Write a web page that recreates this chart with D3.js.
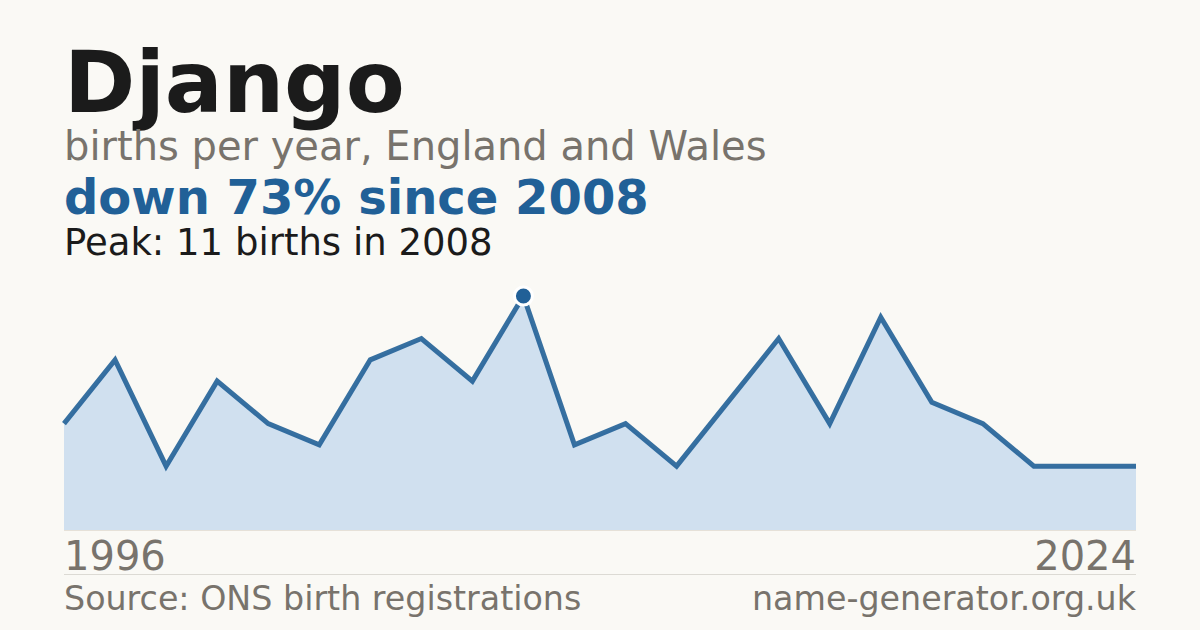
<!DOCTYPE html>
<html>
<head>
<meta charset="utf-8">
<script src="https://cdn.jsdelivr.net/npm/d3@7"></script>
<style>
  html, body { margin: 0; padding: 0; background: #faf9f5; }
  svg { display: block; font-family: "DejaVu Sans", sans-serif; }
</style>
</head>
<body>
<svg id="chart" width="1200" height="630"></svg>
<script>
// years that have a published count (gaps are years under the disclosure threshold)
const years = [1996, 1997, 1999, 2000, 2002, 2003, 2004, 2005, 2007, 2008,
  2009, 2010, 2012, 2013, 2014, 2016, 2017, 2018, 2019, 2022, 2023, 2024];
const births = [5, 8, 3, 7, 5, 4, 8, 9, 7, 11,
  4, 5, 3, 6, 9, 5, 10, 6, 5, 3, 3, 3];
const axisLabels = ['1996', '2024'];

const svg = d3.select('#chart');
const W = 1200;
const margin = { left: 64, right: 64 };
const plot = { top: 296, bottom: 530 };

const palette = {
  bg: '#faf9f5',
  ink: '#1b1b1b',
  muted: '#78736c',
  blue: '#216097',
  area: '#d0e0ef',
  rule: '#dcdad4',
};

svg.append('rect').attr('width', W).attr('height', 630).attr('fill', palette.bg);

// header text
svg.append('text').attr('x', 64).attr('y', 112)
  .attr('font-size', 86).attr('font-weight', 'bold').attr('fill', palette.ink)
  .text('Django');
svg.append('text').attr('x', 64).attr('y', 160)
  .attr('font-size', 40).attr('fill', palette.muted)
  .text('births per year, England and Wales');
svg.append('text').attr('x', 64).attr('y', 214)
  .attr('font-size', 48).attr('font-weight', 'bold').attr('fill', palette.blue)
  .text('down 73% since 2008');
svg.append('text').attr('x', 64).attr('y', 255)
  .attr('font-size', 37).attr('fill', palette.ink)
  .text('Peak: 11 births in 2008');

// scales
const x = d3.scalePoint().domain(years).range([margin.left, W - margin.right]);
const y = d3.scaleLinear().domain([0, d3.max(births)]).range([plot.bottom, plot.top]);

const data = years.map((yr, i) => ({ year: yr, value: births[i] }));

const area = d3.area()
  .x(d => x(d.year))
  .y0(y(0))
  .y1(d => y(d.value));
const line = d3.line()
  .x(d => x(d.year))
  .y(d => y(d.value));

svg.append('path').datum(data)
  .attr('d', area)
  .attr('fill', palette.area);

svg.append('line')
  .attr('x1', margin.left).attr('x2', W - margin.right)
  .attr('y1', y(0) + 0.5).attr('y2', y(0) + 0.5)
  .attr('stroke', '#e6e1d8').attr('stroke-width', 1);

svg.append('path').datum(data)
  .attr('d', line)
  .attr('fill', 'none')
  .attr('stroke', palette.blue)
  .attr('stroke-width', 5)
  .attr('stroke-linejoin', 'miter')
  .attr('stroke-opacity', 0.9);

// peak marker
const peak = data.reduce((a, b) => (b.value > a.value ? b : a));
svg.append('circle')
  .attr('cx', x(peak.year)).attr('cy', y(peak.value))
  .attr('r', 9)
  .attr('fill', palette.blue)
  .attr('stroke', '#ffffff')
  .attr('stroke-width', 3);

// end labels
svg.append('text').attr('x', x(years[0])).attr('y', 570)
  .attr('font-size', 40).attr('fill', palette.muted)
  .text(axisLabels[0]);
svg.append('text').attr('x', x(years[years.length - 1])).attr('y', 570)
  .attr('text-anchor', 'end')
  .attr('font-size', 40).attr('fill', palette.muted)
  .text(axisLabels[1]);

svg.append('line')
  .attr('x1', margin.left).attr('x2', W - margin.right)
  .attr('y1', 574.5).attr('y2', 574.5)
  .attr('stroke', palette.rule).attr('stroke-width', 1);

// footer
svg.append('text').attr('x', 64).attr('y', 610)
  .attr('font-size', 33.3).attr('fill', palette.muted)
  .text('Source: ONS birth registrations');
svg.append('text').attr('x', W - margin.right).attr('y', 610)
  .attr('text-anchor', 'end')
  .attr('font-size', 33.3).attr('fill', palette.muted)
  .text('name-generator.org.uk');
</script>
</body>
</html>
